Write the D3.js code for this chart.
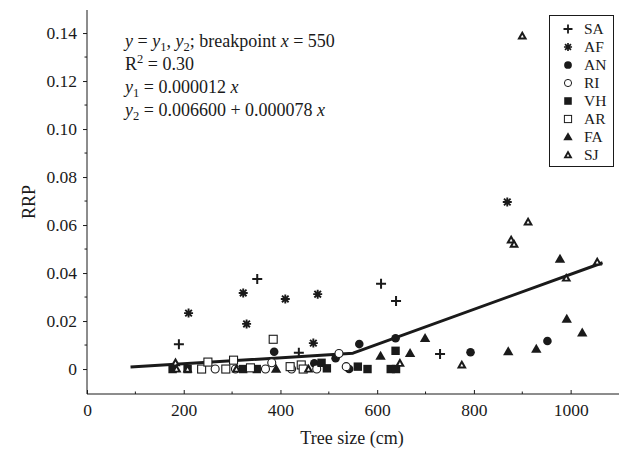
<!DOCTYPE html>
<html>
<head>
<meta charset="utf-8">
<script src="https://cdn.jsdelivr.net/npm/d3@7/dist/d3.min.js"></script>
<style>
  body { margin: 0; background: #fff; }
  svg { display: block; }
  svg text { font-family: "Liberation Serif", "Times New Roman", Times, serif; }
</style>
</head>
<body>
<svg id="chart" width="626" height="452"></svg>
<script>
// series names, in legend order
var seriesNames = ["SA", "AF", "AN", "RI", "VH", "AR", "FA", "SJ"];

// [tree size (cm), RRP]
var saPts = [[190, 0.0103], [352, 0.0375], [438, 0.0068], [608, 0.0355], [639, 0.0283], [730, 0.0063]];
var afPts = [[210, 0.0233], [323, 0.0317], [330, 0.0188], [410, 0.0292], [468, 0.0108], [477, 0.0312], [869, 0.0696]];
var anPts = [[387, 0.0072], [470, 0.0024], [514, 0.0045], [542, 0], [563, 0.0104], [638, 0.0128], [793, 0.007], [952, 0.0117]];
var riPts = [[265, 0], [307, 0], [369, 0], [382, 0.0026], [423, 0], [475, 0], [521, 0.0065], [536, 0.001]];
var vhPts = [[177, 0], [208, 0], [323, 0], [351, 0], [485, 0.0026], [496, 0.0003], [560, 0.001], [580, 0], [628, 0], [639, 0], [638, 0.0076]];
var arPts = [[237, 0], [250, 0.0029], [287, 0], [303, 0.0037], [338, 0.0005], [385, 0.0124], [420, 0.001], [443, 0.0017], [447, 0]];
var faPts = [[391, 0], [607, 0.0054], [668, 0.0065], [699, 0.0128], [871, 0.0072], [929, 0.0083], [978, 0.0458], [992, 0.0208], [1024, 0.0151]];
var sjPts = [[183, 0.0026], [185, 0], [208, 0], [309, 0], [458, 0], [647, 0.0024], [775, 0.0017], [877, 0.0538], [883, 0.052], [900, 0.1388], [912, 0.0613], [991, 0.0379], [1055, 0.0446]];

// piecewise fit, vertices
var fitLine = [[90, 0.0008], [550, 0.0066], [1066, 0.0443]];

var xTicks = [0, 200, 400, 600, 800, 1000];
var xMinor = [100, 300, 500, 700, 900];
var yTicks = [0, 0.02, 0.04, 0.06, 0.08, 0.10, 0.12, 0.14];
var yMinor = [0.01, 0.03, 0.05, 0.07, 0.09, 0.11, 0.13];

var ink = "#1a1a1a";
var svg, x, y;

document.addEventListener("DOMContentLoaded", function () {
  svg = d3.select("#chart");
  x = d3.scaleLinear().domain([0, 1100]).range([87, 619]);
  y = d3.scaleLinear().domain([-0.0104, 0.1496]).range([394, 10]);

  drawAxes();
  drawFit();
  drawPoints();
  drawLegend();
  drawEquation();
});

drawAxes = () => {
  var xAxis = d3.axisBottom(x).tickValues(xTicks).tickSize(-4).tickPadding(10).tickFormat(d3.format("d"));
  var gx = svg.append("g").attr("transform", `translate(0, ${y.range()[0]})`).call(xAxis);
  gx.append("g").selectAll("line").data(xMinor).join("line")
    .attr("x1", (d) => x(d)).attr("x2", (d) => x(d))
    .attr("y1", 0).attr("y2", -2.5).attr("stroke", ink);

  var yAxis = d3.axisLeft(y).tickValues(yTicks).tickSize(4).tickPadding(6)
    .tickFormat((d) => (d === 0 ? "0" : d3.format(".2f")(d)));
  var gy = svg.append("g").attr("transform", `translate(${x.range()[0]}, 0)`).call(yAxis);
  gy.append("g").selectAll("line").data(yMinor).join("line")
    .attr("y1", (d) => y(d)).attr("y2", (d) => y(d))
    .attr("x1", 0).attr("x2", -2.5).attr("stroke", ink);

  [gx, gy].forEach((g) => {
    g.attr("font-family", null);
    g.selectAll(".tick line").attr("stroke", ink);
    g.selectAll(".tick text").attr("font-size", 17.5).attr("fill", ink);
    g.select(".domain").remove();
  });
  // plain axis lines (no end ticks)
  svg.append("line").attr("x1", x.range()[0]).attr("x2", x.range()[1])
    .attr("y1", y.range()[0]).attr("y2", y.range()[0]).attr("stroke", ink);
  svg.append("line").attr("x1", x.range()[0]).attr("x2", x.range()[0])
    .attr("y1", y.range()[0]).attr("y2", y.range()[1]).attr("stroke", ink);

  svg.append("text").attr("x", 352).attr("y", 444).attr("text-anchor", "middle")
    .attr("font-size", 18).attr("fill", ink).text("Tree size (cm)");
  svg.append("text").attr("transform", "translate(35, 202) rotate(-90)")
    .attr("text-anchor", "middle").attr("font-size", 18).attr("fill", ink).text("RRP");
};

drawFit = () => {
  var line = d3.line().x((d) => x(d[0])).y((d) => y(d[1]));
  svg.append("path").datum(fitLine).attr("d", line)
    .attr("fill", "none").attr("stroke", ink).attr("stroke-width", 3)
    .attr("stroke-linejoin", "round");
};

// one marker per series name, drawn around (0,0)
drawMarker = (g, name) => {
  if (name == "SA") {
    g.append("path").attr("d", "M-5,0H5M0,-5V5").attr("stroke", ink).attr("stroke-width", 2);
  } else if (name == "AF") {
    g.append("path").attr("d", "M-4.5,0H4.5M0,-4.5V4.5M-3.3,-3.3L3.3,3.3M-3.3,3.3L3.3,-3.3").attr("stroke", ink).attr("stroke-width", 1.9);
  } else if (name == "AN") {
    g.append("circle").attr("r", 4.3).attr("fill", ink);
  } else if (name == "RI") {
    g.append("circle").attr("r", 4).attr("fill", "#fff").attr("stroke", ink).attr("stroke-width", 1.1);
  } else if (name == "VH") {
    g.append("rect").attr("x", -4.2).attr("y", -4.2).attr("width", 8.4).attr("height", 8.4).attr("fill", ink);
  } else if (name == "AR") {
    g.append("rect").attr("x", -4).attr("y", -4).attr("width", 8).attr("height", 8)
      .attr("fill", "#fff").attr("stroke", ink).attr("stroke-width", 1.1);
  } else if (name == "FA") {
    g.append("path").attr("d", "M0,-5.4L5.2,3.6H-5.2Z").attr("fill", ink);
  } else if (name == "SJ") {
    g.append("path").attr("d", "M0,-5.2L5,3.5H-5Z").attr("fill", ink);
    g.append("path").attr("d", "M0,-1.2L1.5,1.6H-1.5Z").attr("fill", "#fff");
  }
};

drawPoints = () => {
  var allPts = [saPts, afPts, anPts, riPts, vhPts, arPts, faPts, sjPts];
  var layer = svg.append("g").attr("class", "points");
  allPts.forEach((pts, i) => {
    layer.append("g").selectAll("g").data(pts).join("g")
      .attr("transform", (d) => `translate(${x(d[0])}, ${y(d[1])})`)
      .each(function () {
        drawMarker(d3.select(this), seriesNames[i]);
      });
  });
};

drawLegend = () => {
  var lg = svg.append("g").attr("class", "legend");
  lg.append("rect").attr("x", 549.5).attr("y", 15.5).attr("width", 64).attr("height", 151)
    .attr("fill", "#fff").attr("stroke", ink);
  var rows = lg.selectAll("g.row").data(seriesNames).join("g").attr("class", "row")
    .attr("transform", (d, i) => `translate(0, ${29 + i * 18})`);
  rows.each(function (d) {
    var m = d3.select(this).append("g").attr("transform", "translate(568, 0) scale(0.9)");
    drawMarker(m, d);
  });
  rows.append("text").attr("x", 584).attr("dy", "0.35em").attr("font-size", 15.5)
    .attr("fill", ink).text((d) => d);
};

// rich text: parts are [text, style] with style "" | "i" | "sub" | "sup"
addRich = (t, parts) => {
  var shift = 0;
  parts.forEach((p) => {
    var want = p[1] == "sub" ? 4 : p[1] == "sup" ? -7 : 0;
    var ts = t.append("tspan").text(p[0]).attr("dy", want - shift);
    shift = want;
    if (p[1] == "i") ts.attr("font-style", "italic");
    if (p[1] == "sub" || p[1] == "sup") ts.attr("font-size", 12.5);
  });
};

drawEquation = () => {
  var lines = [
    [["y", "i"], [" = "], ["y", "i"], ["1", "sub"], [", "], ["y", "i"], ["2", "sub"], ["; breakpoint "], ["x", "i"], [" = 550"]],
    [["R"], ["2", "sup"], [" = 0.30"]],
    [["y", "i"], ["1", "sub"], [" = 0.000012 "], ["x", "i"]],
    [["y", "i"], ["2", "sub"], [" = 0.006600 + 0.000078 "], ["x", "i"]],
  ];
  lines.forEach((parts, i) => {
    var t = svg.append("text").attr("x", 125).attr("y", 47 + i * 23)
      .attr("font-size", 18).attr("fill", ink);
    addRich(t, parts.map((p) => [p[0], p[1] || ""]));
  });
};
</script>
</body>
</html>
